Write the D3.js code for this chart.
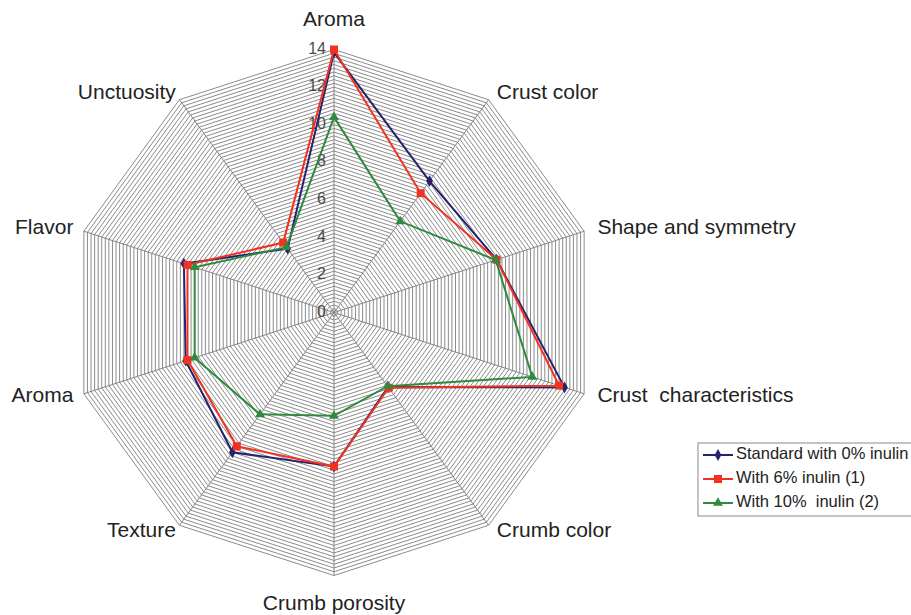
<!DOCTYPE html>
<html>
<head>
<meta charset="utf-8">
<script src="https://cdn.jsdelivr.net/npm/d3@7"></script>
<style>
  html, body { margin: 0; padding: 0; background: #ffffff; }
  svg { display: block; }
  text { font-family: "Liberation Sans", Arial, sans-serif; white-space: pre; }
</style>
</head>
<body>
<svg id="chart" width="911" height="615"></svg>
<script>
const axes = ["Aroma", "Crust color", "Shape and symmetry", "Crust  characteristics", "Crumb color",
              "Crumb porosity", "Texture", "Aroma", "Flavor", "Unctuosity"];
const standard0 = [13.85, 8.65, 9.1, 12.9, 4.9, 8.2, 9.2, 8.3, 8.4, 4.2];
const inulin6   = [14.0, 7.85, 9.1, 12.6, 4.95, 8.2, 8.8, 8.2, 8.2, 4.6];
const inulin10  = [10.4, 6.0, 9.05, 11.1, 4.85, 5.5, 6.7, 7.8, 7.8, 4.3];
const seriesNames = ["Standard with 0% inulin", "With 6% inulin (1)", "With 10%  inulin (2)"];
const tickValues = [0, 2, 4, 6, 8, 10, 12, 14];
const minorStep = 0.2;
const maxValue = 14;

const svg = d3.select("#chart");
const cx = 334, cy = 312.5, R = 263;
const r = d3.scaleLinear().domain([0, maxValue]).range([0, R]);
const n = axes.length;
const ang = d3.scaleLinear().domain([0, n]).range([0, 2 * Math.PI]);
const pt = (i, v) => [cx + r(v) * Math.sin(ang(i)), cy - r(v) * Math.cos(ang(i))];

// grid rings
const ringVals = d3.range(1, Math.round(maxValue / minorStep) + 1).map(k => k * minorStep);
const gGrid = svg.append("g");
gGrid.selectAll("path.ring").data(ringVals).join("path")
  .attr("class", "ring")
  .attr("d", v => d3.line()(d3.range(n).map(i => pt(i, v))) + "Z")
  .attr("fill", "none")
  .attr("stroke", "#858585")
  .attr("stroke-width", 0.95);
// spokes
gGrid.selectAll("line.spoke").data(d3.range(n)).join("line")
  .attr("x1", cx).attr("y1", cy)
  .attr("x2", i => pt(i, maxValue)[0]).attr("y2", i => pt(i, maxValue)[1])
  .attr("stroke", "#858585").attr("stroke-width", 1);

// tick labels
svg.append("g").selectAll("text").data(tickValues).join("text")
  .attr("x", cx - 8).attr("y", v => cy - r(v))
  .attr("text-anchor", "end").attr("dominant-baseline", "middle")
  .attr("font-size", 16).attr("fill", "#4a4a4a")
  .text(v => v);

// axis labels
svg.append("g").selectAll("text").data(axes).join("text")
  .each(function (d, i) {
    const a = ang(i);
    const [vx, vy] = pt(i, maxValue);
    const s = Math.sin(a), c = Math.cos(a);
    const t = d3.select(this);
    if (Math.abs(s) < 0.1) {
      t.attr("x", vx).attr("y", vy - c * 29).attr("text-anchor", "middle");
    } else {
      const dx = s > 0 ? s * 14 : s * (Math.abs(s) > 0.9 ? 11 : 6);
      t.attr("x", vx + dx).attr("y", vy - c * 7.5)
       .attr("text-anchor", s > 0 ? "start" : "end");
    }
  })
  .attr("dominant-baseline", "middle")
  .attr("font-size", 21).attr("fill", "#222")
  .text(d => d);

// series
const series = [
  { name: seriesNames[0], values: standard0, color: "#25236e", symbol: d3.symbolDiamond, size: 40 },
  { name: seriesNames[1], values: inulin6,   color: "#f2311f", symbol: d3.symbolSquare,  size: 64 },
  { name: seriesNames[2], values: inulin10,  color: "#2e8a3e", symbol: d3.symbolTriangle, size: 42 }
];
series.forEach(s => {
  const g = svg.append("g");
  g.append("path")
    .attr("d", d3.line()(s.values.map((v, i) => pt(i, v))) + "Z")
    .attr("fill", "none").attr("stroke", s.color).attr("stroke-width", 2);
  g.selectAll("path.m").data(s.values).join("path")
    .attr("class", "m")
    .attr("transform", (v, i) => `translate(${pt(i, v)[0]},${pt(i, v)[1]})`)
    .attr("d", d3.symbol().type(s.symbol).size(s.size))
    .attr("fill", s.color);
});

// legend
const lg = svg.append("g");
lg.append("rect").attr("x", 698).attr("y", 443).attr("width", 240).attr("height", 73)
  .attr("fill", "#fff").attr("stroke", "#8a8a8a").attr("stroke-width", 1);
series.forEach((s, k) => {
  const y = 455 + k * 24;
  lg.append("line").attr("x1", 703).attr("x2", 733).attr("y1", y).attr("y2", y)
    .attr("stroke", s.color).attr("stroke-width", 2);
  lg.append("path").attr("transform", `translate(718,${y})`)
    .attr("d", d3.symbol().type(s.symbol).size(s.size)).attr("fill", s.color);
  lg.append("text").attr("x", 736).attr("y", y).attr("dominant-baseline", "middle")
    .attr("font-size", 16.5).attr("fill", "#222").text(s.name);
});
</script>
</body>
</html>
